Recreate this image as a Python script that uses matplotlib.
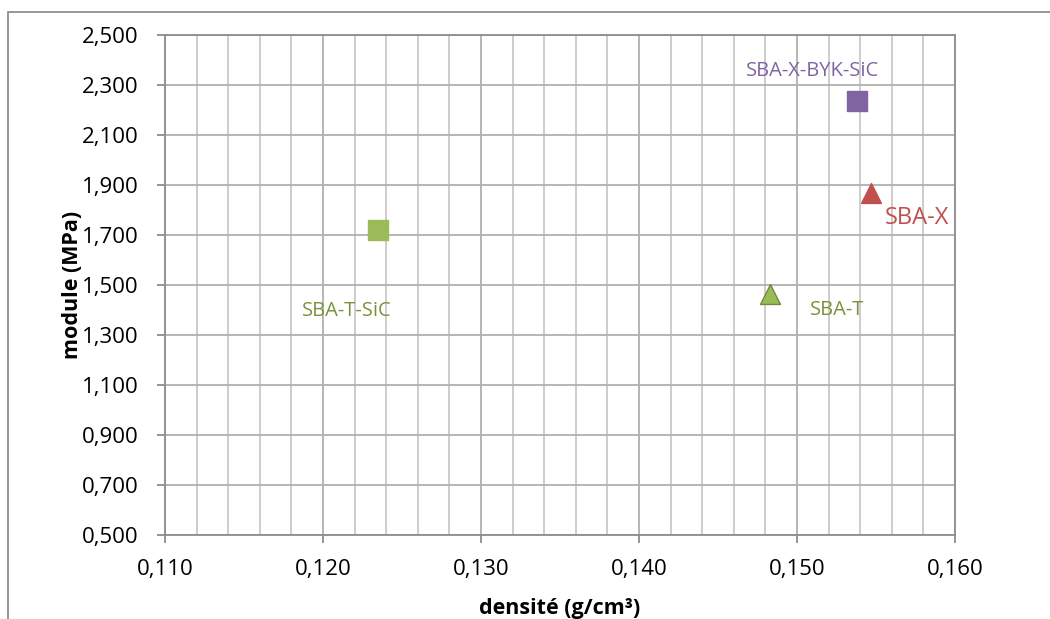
import matplotlib
matplotlib.use("Agg")
import matplotlib.pyplot as plt
from matplotlib.ticker import MultipleLocator, FuncFormatter
from matplotlib.patches import Rectangle

plt.rcParams['font.family'] = ['Open Sans', 'DejaVu Sans']

names = ["SBA-T-SiC", "SBA-X-BYK-SiC", "SBA-X", "SBA-T"]
densite = [0.1235, 0.1538, 0.1547, 0.1483]
module = [1.720, 2.235, 1.870, 1.465]
markers = ["s", "s", "^", "^"]
fill_colors = ["#9BBB59", "#8064A2", "#C0504D", "#9BBB59"]
edge_colors = ["#9BBB59", "#8064A2", "#C0504D", "#71893F"]
label_colors = ["#77933C", "#8064A2", "#C0504D", "#77933C"]
label_offsets = [(-31, -81), (-44, 30), (46, -26), (67, -16)]  # in pixels
label_sizes = [14.5, 14.5, 17, 14.5]

x_ticks = [0.110, 0.120, 0.130, 0.140, 0.150, 0.160]
y_ticks = [0.5, 0.7, 0.9, 1.1, 1.3, 1.5, 1.7, 1.9, 2.1, 2.3, 2.5]

fig = plt.figure(figsize=(10.5, 6.19), dpi=100)
ax = fig.add_axes([165/1050, 1 - 535/619, (955-165)/1050, (535-35)/619])

fig.patches.append(Rectangle((8/1050, -0.1), 1.2, 1.1 - 12/619,
                             transform=fig.transFigure, fill=False,
                             edgecolor="#868686", linewidth=1.2))

for x, y, m, fc, ec in zip(densite, module, markers, fill_colors, edge_colors):
    ax.scatter([x], [y], marker=m, s=215 if m == "s" else 205, facecolor=fc,
               edgecolor=ec, linewidth=1.0, zorder=5)

for x, y, n, c, off, fs in zip(densite, module, names, label_colors, label_offsets, label_sizes):
    ax.annotate(n, (x, y), xytext=off, textcoords="offset pixels", color=c,
                fontsize=fs, ha="center", va="center", zorder=6)

ax.set_xlim(0.110, 0.160)
ax.set_ylim(0.5, 2.5)
ax.set_xticks(x_ticks)
ax.set_yticks(y_ticks)
ax.xaxis.set_minor_locator(MultipleLocator(0.002))
fmt = FuncFormatter(lambda v, p: f"{v:.3f}".replace(".", ","))
ax.xaxis.set_major_formatter(fmt)
ax.yaxis.set_major_formatter(fmt)

ax.grid(True, which="major", axis="both", color="#B0B0B0", linewidth=1.3)
ax.grid(True, which="minor", axis="x", color="#C0C0C0", linewidth=1.1)
ax.set_axisbelow(True)
for s in ax.spines.values():
    s.set_color("#8C8C8C")
    s.set_linewidth(1.3)

ax.tick_params(axis="both", which="major", labelsize=16, color="#8C8C8C",
               length=6, width=1.3, direction="out")
ax.tick_params(axis="y", which="major", pad=13)
ax.tick_params(axis="x", which="major", pad=11)
ax.tick_params(axis="x", which="minor", length=0)

ax.set_xlabel("densité (g/cm³)", fontsize=15.5, fontweight="bold", labelpad=13)
ax.set_ylabel("module (MPa)", fontsize=15.5, fontweight="bold", labelpad=-1)

fig.savefig("out.png", dpi=100)
